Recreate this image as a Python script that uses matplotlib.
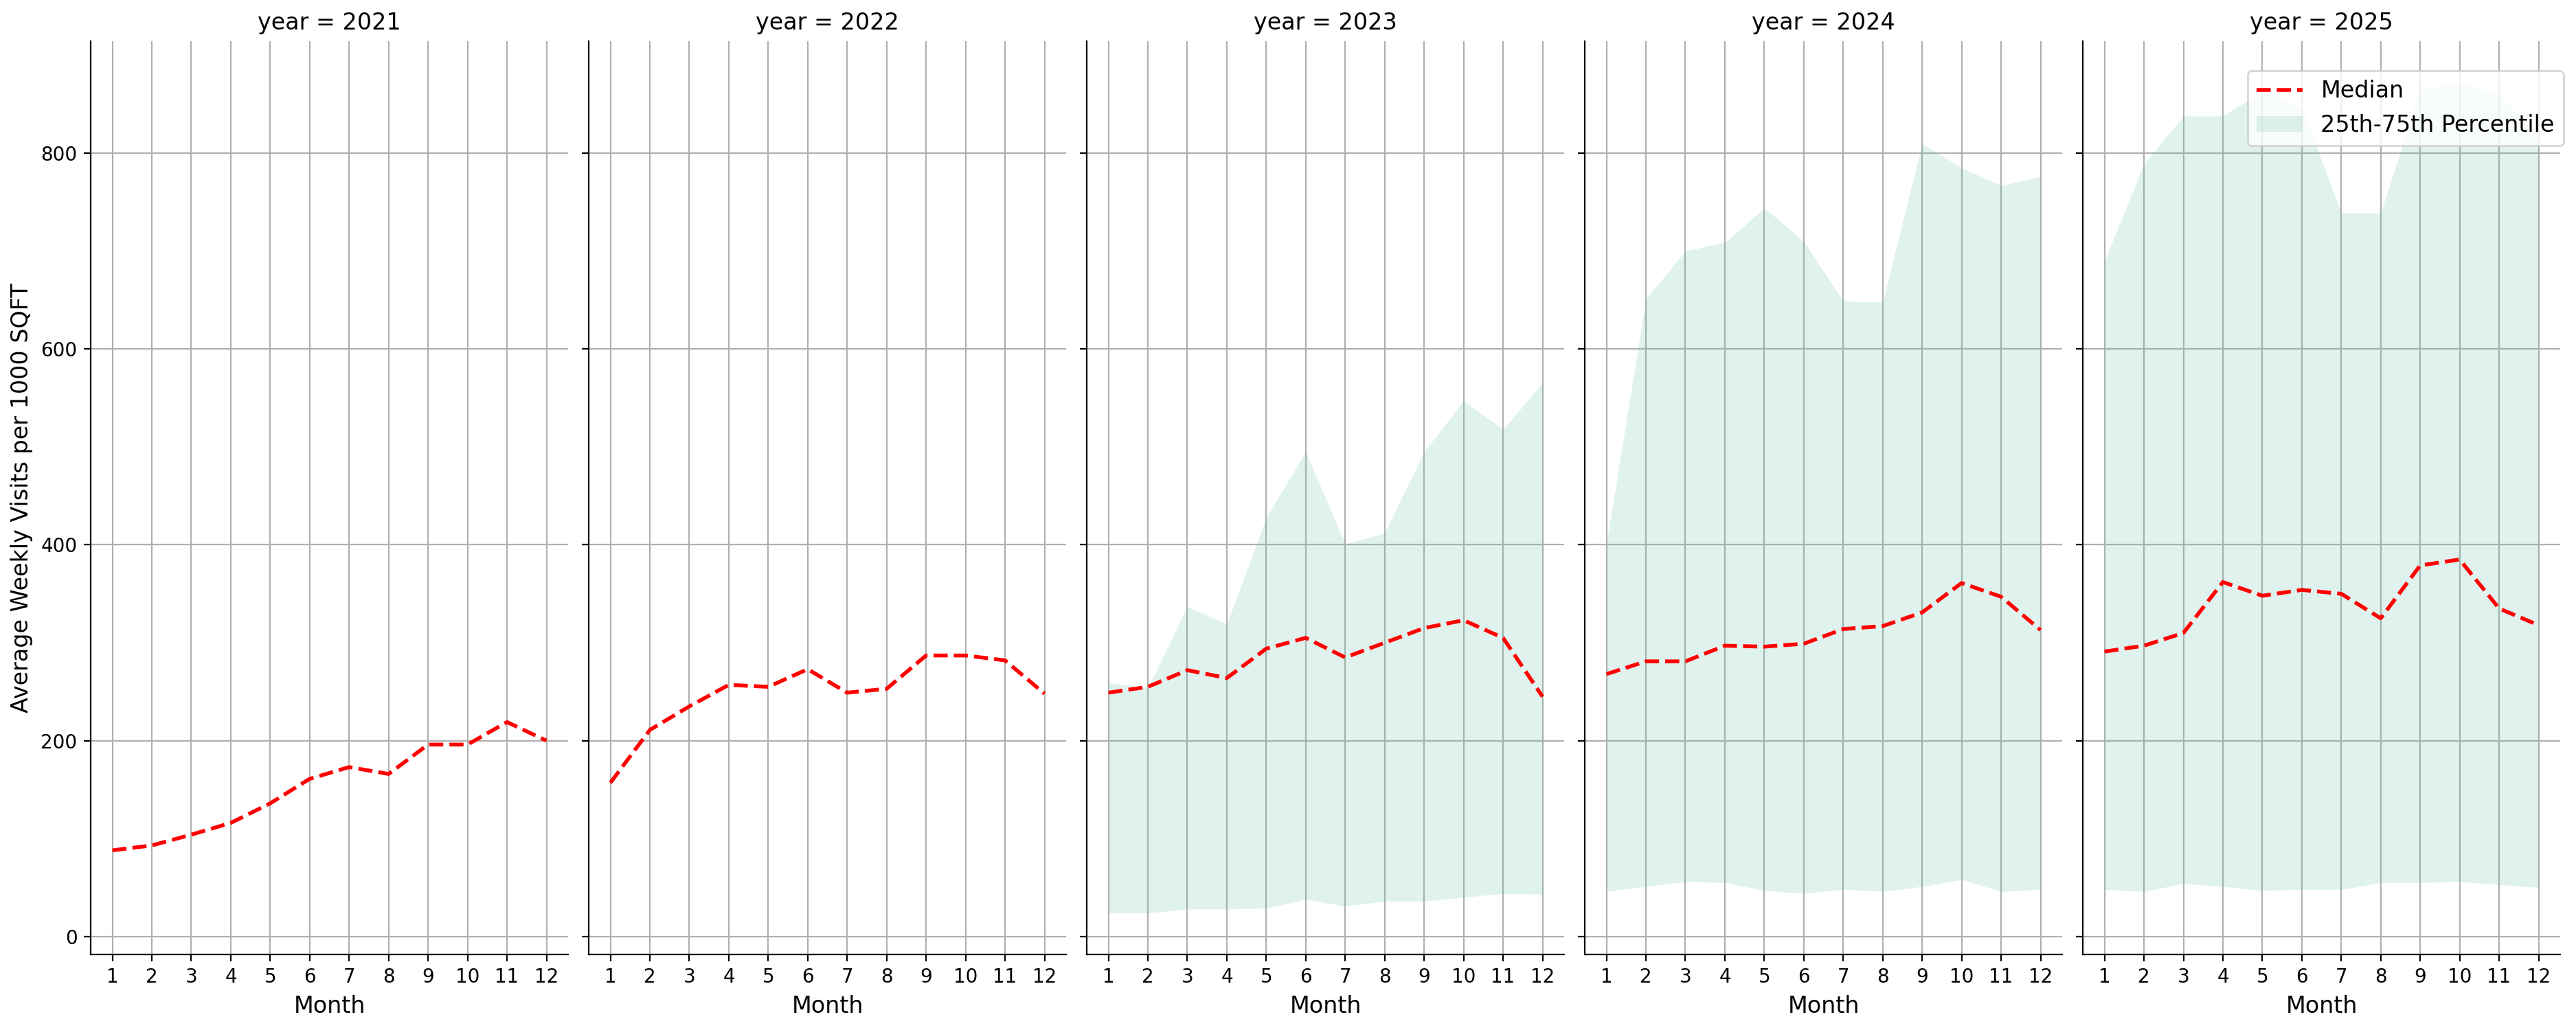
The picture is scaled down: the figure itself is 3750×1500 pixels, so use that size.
import numpy as np
import matplotlib.pyplot as plt

months = list(range(1, 13))
years = [2021, 2022, 2023, 2024, 2025]

# median weekly visits per 1000 sqft
median_2021 = [88, 93, 104, 116, 136, 161, 173, 166, 196, 196, 219, 200]
median_2022 = [157, 211, 235, 257, 255, 273, 249, 253, 287, 287, 282, 248]
median_2023 = [249, 255, 272, 264, 294, 305, 285, 300, 315, 323, 305, 245]
median_2024 = [268, 281, 281, 297, 296, 299, 314, 317, 331, 361, 347, 313]
median_2025 = [291, 297, 310, 362, 348, 354, 350, 325, 379, 385, 335, 318]

# 25th / 75th percentile (not available before 2023)
p25_2023 = [24, 24, 28, 28, 29, 38, 31, 36, 36, 40, 44, 43]
p75_2023 = [259, 254, 337, 319, 428, 495, 401, 412, 495, 547, 518, 565]
p25_2024 = [46, 51, 56, 55, 47, 44, 48, 46, 51, 58, 46, 48]
p75_2024 = [401, 651, 700, 709, 744, 710, 649, 648, 810, 785, 767, 776]
p25_2025 = [48, 46, 54, 51, 47, 48, 48, 55, 55, 56, 53, 50]
p75_2025 = [690, 789, 838, 838, 863, 847, 739, 739, 865, 872, 860, 819]

medians = [median_2021, median_2022, median_2023, median_2024, median_2025]
lows = [None, None, p25_2023, p25_2024, p25_2025]
highs = [None, None, p75_2023, p75_2024, p75_2025]

fig, axes = plt.subplots(1, 5, figsize=(18.75, 7.5), sharey=True)
fig.subplots_adjust(left=0.0352, right=0.9939, top=0.96, bottom=0.0733, wspace=0.043)

for ax, yr, med, lo, hi in zip(axes, years, medians, lows, highs):
    ax.set_axisbelow(True)
    ax.grid(True, color='#b0b0b0', linewidth=0.8)
    line, = ax.plot(months, med, 'r--', linewidth=2, label='Median', zorder=3)
    if lo is not None:
        band = ax.fill_between(months, lo, hi, color='#66c2a5', alpha=0.2,
                               linewidth=0, label='25th-75th Percentile')
    ax.set_xticks(months)
    ax.tick_params(labelsize=10)
    ax.set_xlabel('Month', fontsize=12)
    ax.set_title('year = %d' % yr, fontsize=12)
    ax.spines['top'].set_visible(False)
    ax.spines['right'].set_visible(False)

axes[0].set_ylabel('Average Weekly Visits per 1000 SQFT', fontsize=12)
axes[0].set_yticks([0, 200, 400, 600, 800])

axes[-1].legend(handles=[line, band], loc='upper right', fontsize=12, borderaxespad=0,
                bbox_to_anchor=(3732 / 3750, 1 - 103 / 1500),
                bbox_transform=fig.transFigure)

fig.savefig('out.png', dpi=200)
